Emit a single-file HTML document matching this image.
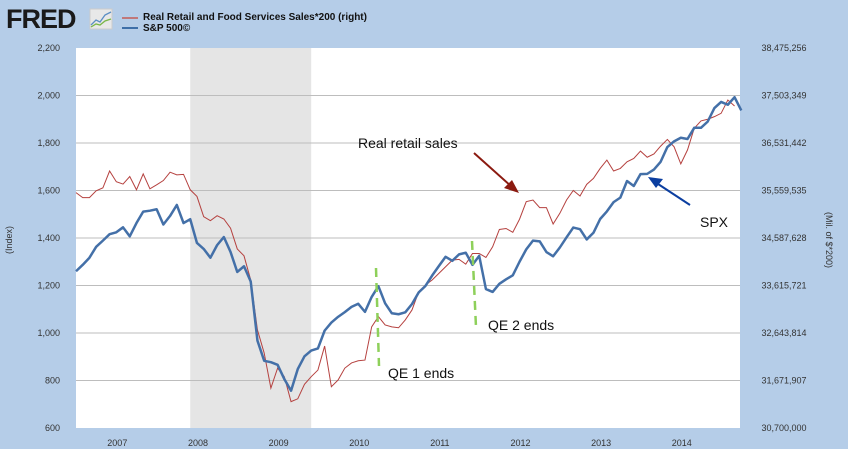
<!DOCTYPE html>
<html><head><meta charset="utf-8"><style>
body{margin:0;width:848px;height:449px;background:#b5cde8;overflow:hidden;font-family:"Liberation Sans",sans-serif}
svg{position:absolute;left:0;top:0}
</style></head><body>
<svg id="c" width="848" height="449">
<text x="6" y="28" font-size="27" font-weight="bold" fill="#1a1a1a" letter-spacing="-1">FRED</text>
<g><rect x="90" y="9" width="22" height="20" fill="#e8e8e8" stroke="#ccc"/><polyline points="91,25 96,20 100,22 105,15 111,12" fill="none" stroke="#5b8ec4" stroke-width="1.3"/><polyline points="91,27 96,24 100,25 105,21 111,19" fill="none" stroke="#7ab648" stroke-width="1.3"/></g>
<line x1="122" y1="18" x2="138" y2="18" stroke="#c0787a" stroke-width="2"/>
<line x1="122" y1="28" x2="138" y2="28" stroke="#3d6fa8" stroke-width="2"/>
<text x="143" y="20" font-size="10" font-weight="bold" fill="#111">Real Retail and Food Services Sales*200 (right)</text>
<text x="143" y="31" font-size="10" font-weight="bold" fill="#111">S&amp;P 500©</text>
<rect x="76" y="48" width="664" height="380" fill="#fff"/>
<g id="grid"></g><g id="axes"></g><g id="series"></g>
<text x="12" y="240" font-size="9" fill="#333" text-anchor="middle" transform="rotate(-90 12 240)">(Index)</text>
<text x="826" y="240" font-size="9" fill="#333" text-anchor="middle" transform="rotate(90 826 240)">(Mil. of $*200)</text>
<g><text x="358" y="148" font-size="14" fill="#111">Real retail sales</text>
<line x1="474" y1="153" x2="512" y2="187" stroke="#8b1a10" stroke-width="2"/><polygon points="519,193 504,188 512,180" fill="#8b1a10"/></g>
<g><text x="700" y="227" font-size="14" fill="#111">SPX</text>
<line x1="690" y1="205" x2="655" y2="182" stroke="#0b3ea0" stroke-width="2"/><polygon points="648,177 663,179 656,188" fill="#0b3ea0"/></g>
<g><line x1="376" y1="268" x2="379" y2="366" stroke="#8ed05a" stroke-width="2.5" stroke-dasharray="9,6"/><text x="388" y="378" font-size="14" fill="#111">QE 1 ends</text></g>
<g><line x1="472" y1="241" x2="476" y2="327" stroke="#8ed05a" stroke-width="2.5" stroke-dasharray="9,6"/><text x="488" y="330" font-size="14" fill="#111">QE 2 ends</text></g>
</svg>
<script>
const leftTicks=[600,800,1000,1200,1400,1600,1800,2000,2200];
const rightTickLabels=["30,700,000","31,671,907","32,643,814","33,615,721","34,587,628","35,559,535","36,531,442","37,503,349","38,475,256"];
const yearLabels=["2007","2008","2009","2010","2011","2012","2013","2014"];
const recession=[17,35];
const spx=[1260,1287,1317,1363,1389,1416,1424,1445,1407,1463,1511,1515,1521,1457,1493,1539,1463,1479,1379,1354,1317,1370,1404,1341,1257,1281,1217,968,883,877,866,806,757,848,902,926,935,1010,1044,1068,1088,1110,1123,1089,1152,1197,1125,1083,1079,1087,1122,1171,1198,1242,1282,1321,1304,1331,1338,1287,1325,1185,1173,1207,1226,1243,1300,1352,1389,1386,1341,1323,1360,1403,1444,1437,1394,1422,1480,1512,1551,1570,1640,1619,1669,1670,1688,1721,1783,1807,1822,1817,1864,1864,1890,1947,1973,1961,1993,1937];
const retail=[1591,1570,1570,1599,1611,1682,1637,1627,1659,1603,1670,1607,1624,1642,1677,1666,1668,1603,1575,1490,1473,1494,1480,1441,1354,1325,1223,1013,916,768,852,816,711,723,784,816,844,945,774,802,852,874,883,886,1026,1069,1034,1026,1022,1055,1097,1174,1202,1223,1251,1279,1307,1310,1290,1335,1335,1318,1363,1436,1440,1424,1479,1553,1560,1528,1528,1459,1504,1560,1600,1577,1626,1651,1693,1728,1682,1693,1721,1735,1766,1740,1754,1787,1815,1784,1712,1771,1862,1893,1900,1911,1925,1981,1956];
const NS="http://www.w3.org/2000/svg";
const X=i=>76+i*6.72, Y=v=>48+(2200-v)*0.2375;
function mk(tag,attrs,parent){const e=document.createElementNS(NS,tag);for(const k in attrs)e.setAttribute(k,attrs[k]);document.getElementById(parent).appendChild(e);return e;}
const rr=mk('rect',{x:X(recession[0]),y:48,width:X(recession[1])-X(recession[0]),height:380,fill:'#e5e5e5'},'grid');


leftTicks.forEach((v,i)=>{
 if(i>0&&i<leftTicks.length-1){const g=mk('line',{x1:76,x2:740,y1:Y(v),y2:Y(v),stroke:'#bdbdbd','stroke-width':1},'grid');
 
 }
 const t=mk('text',{x:60,y:Y(v)+3,'font-size':9,fill:'#333','text-anchor':'end'},'axes');t.textContent=v.toLocaleString('en-US');
 
 
 const r=mk('text',{x:784,y:Y(v)+3,'font-size':9,fill:'#333','text-anchor':'middle'},'axes');r.textContent=rightTickLabels[i];
 
 
});
yearLabels.forEach((y,i)=>{const t=mk('text',{x:X(6+i*12)+1,y:446,'font-size':9,fill:'#333','text-anchor':'middle'},'axes');t.textContent=y;
 
 });
const pr=mk('polyline',{points:retail.map((v,i)=>X(i)+','+Y(v)).join(' '),fill:'none',stroke:'#b5413f','stroke-width':1},'series');


const ps=mk('polyline',{points:spx.map((v,i)=>X(i)+','+Y(v)).join(' '),fill:'none',stroke:'#4470a8','stroke-width':2.5,'stroke-linejoin':'round'},'series');


</script>
</body></html>
